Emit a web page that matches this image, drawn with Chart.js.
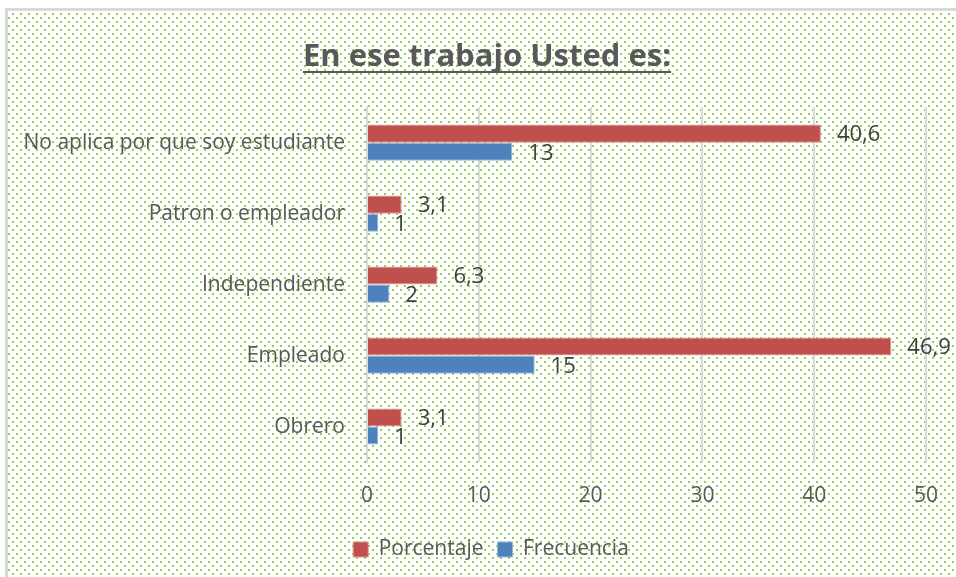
<!DOCTYPE html>
<html>
<head>
<meta charset="utf-8">
<script src="https://cdn.jsdelivr.net/npm/chart.js@4.4.1/dist/chart.umd.min.js"></script>
<style>
    html, body { margin: 0; padding: 0; background: #fff; }
    #wrap { width: 956px; height: 577px; }
</style>
</head>
<body>
<div id="wrap"><canvas id="myChart" width="956" height="577"></canvas></div>
<script>
'use strict';

// datos
const categorias = ['No aplica por que soy estudiante', 'Patron o empleador', 'Independiente', 'Empleado', 'Obrero'];
const porcentaje = [40.6, 3.1, 6.3, 46.9, 3.1];
const frecuencia = [13, 1, 2, 15, 1];
const ticksX = [0, 10, 20, 30, 40, 50];

const FONT = '"Open Sans", "Noto Sans", sans-serif';
const GRIS = '#595959';

// fondo punteado verde + borde del grafico
const fondoPlugin = {
    id: 'fondo',
    beforeDraw(chart) {
        var ctx = chart.ctx;
        var p = document.createElement('canvas');
        p.width = 8; p.height = 8;
        var pc = p.getContext('2d');
        pc.fillStyle = '#fff';
        pc.fillRect(0, 0, 8, 8);
        pc.fillStyle = '#92d050';
        pc.fillRect(0, 0, 2, 2);
        pc.fillRect(4, 4, 2, 2);
        ctx.save();
        ctx.fillStyle = '#fff';
        ctx.fillRect(0, 0, chart.width, chart.height);
        ctx.fillStyle = ctx.createPattern(p, 'repeat');
        ctx.translate(0, 1);
        ctx.fillRect(7, 10, chart.width, chart.height);
        ctx.restore();
        ctx.save();
        ctx.strokeStyle = '#d9d9d9';
        ctx.lineWidth = 3;
        ctx.strokeRect(6.5, 9.5, chart.width + 10, chart.height + 10);
        ctx.restore();
    }
};

// titulo y leyenda un poco a la derecha + subrayado del titulo
const subrayadoPlugin = {
    id: 'subrayado',
    afterLayout(chart) {
        var t = chart.titleBlock;
        if (t) { t.left += 21; t.right += 21; }
        var l = chart.legend;
        if (l) {
            l.left += 25; l.right += 25;
            (l.legendHitBoxes || []).forEach(b => { b.left += 25; });
        }
    },
    afterDraw(chart) {
        var t = chart.titleBlock;
        if (!t) return;
        var ctx = chart.ctx;
        ctx.save();
        ctx.font = 'bold 31px ' + FONT;
        var w = ctx.measureText(chart.options.plugins.title.text).width;
        var cx = (t.left + t.right) / 2;
        ctx.fillStyle = GRIS;
        ctx.fillRect(cx - w / 2, 71, w, 2);
        ctx.restore();
    }
};

// etiquetas de valores con coma decimal
const etiquetasPlugin = {
    id: 'etiquetas',
    afterDatasetsDraw(chart) {
        var ctx = chart.ctx;
        ctx.save();
        ctx.font = '22px ' + FONT;
        ctx.fillStyle = '#404040';
        ctx.textBaseline = 'middle';
        ctx.textAlign = 'left';
        chart.data.datasets.forEach((ds, i) => {
            var meta = chart.getDatasetMeta(i);
            meta.data.forEach((bar, j) => {
                var txt = String(ds.data[j]).replace('.', ',');
                ctx.fillText(txt, bar.x + 16, bar.y + 1 + i);
            });
        });
        ctx.restore();
    }
};

const data = {
    labels: categorias,
    datasets: [
        {
            label: 'Porcentaje',
            data: porcentaje,
            backgroundColor: '#c0504d',
            borderColor: '#d99694',
            borderWidth: 1,
            barPercentage: 1,
            categoryPercentage: 0.51
        },
        {
            label: 'Frecuencia',
            data: frecuencia,
            backgroundColor: '#4f81bd',
            borderColor: '#95b3d7',
            borderWidth: 1,
            barPercentage: 1,
            categoryPercentage: 0.51
        }
    ]
};

const config = {
    type: 'bar',
    data: data,
    options: {
        indexAxis: 'y',
        responsive: false,
        animation: false,
        layout: { padding: { left: 6, right: 30, top: 20, bottom: 7 } },
        plugins: {
            title: {
                display: true,
                text: 'En ese trabajo Usted es:',
                color: GRIS,
                font: { family: FONT, size: 31, weight: 'bold' },
                padding: { top: 19, bottom: 31 }
            },
            legend: {
                position: 'bottom',
                labels: {
                    color: GRIS,
                    font: { family: FONT, size: 21 },
                    boxWidth: 15,
                    boxHeight: 15,
                    padding: 14
                }
            },
            tooltip: { enabled: false }
        },
        scales: {
            x: {
                min: 0,
                max: 50,
                afterBuildTicks: (axis) => { axis.ticks = ticksX.map(v => ({ value: v })); },
                ticks: {
                    color: GRIS,
                    font: { family: FONT, size: 21 },
                    padding: 21
                },
                grid: { color: '#d9d9d9', lineWidth: 2, drawTicks: false },
                border: { display: false },
                afterFit: (axis) => {
                    axis.height = 63;
                    axis.paddingLeft = 0;
                    axis.paddingRight = 0;
                }
            },
            y: {
                ticks: {
                    color: GRIS,
                    font: { family: FONT, size: 21 },
                    padding: 14
                },
                grid: { display: false },
                border: { color: '#d9d9d9', width: 2 },
                afterFit: (axis) => { axis.width = 361; }
            }
        }
    },
    plugins: [fondoPlugin, subrayadoPlugin, etiquetasPlugin]
};

new Chart(document.getElementById('myChart'), config);
</script>
</body>
</html>
